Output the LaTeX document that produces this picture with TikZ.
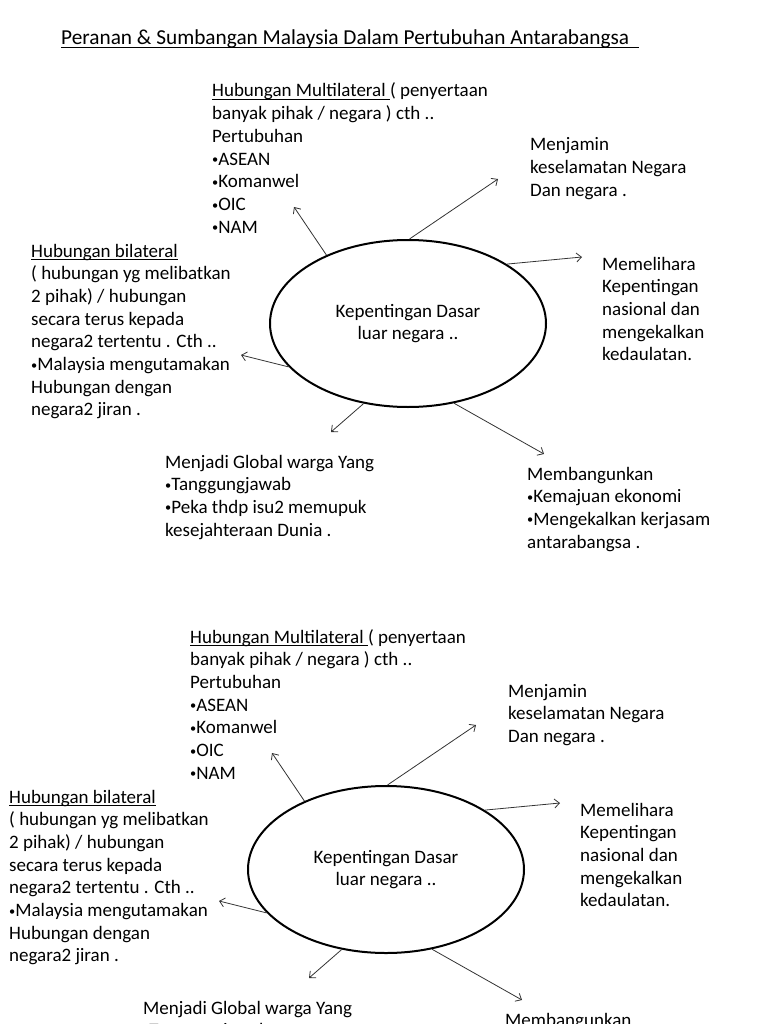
\documentclass[tikz,border=0pt]{standalone}
\usepackage{fontspec}
\setmainfont{Carlito}
\usetikzlibrary{shapes.geometric,arrows.meta}
\newsavebox\ulbox
\newcommand\ulined[1]{\sbox\ulbox{#1}\rlap{\rule[-3pt]{\wd\ulbox}{1.1pt}}\usebox\ulbox}
\newcommand\bul{\raisebox{1.5pt}{\scalebox{0.65}{•}}}

\begin{document}
\begin{tikzpicture}[x=1pt,y=-1pt,
	txt/.style={anchor=base west,align=left,inner sep=0,font=\fontsize{19}{22.7}\selectfont},
	arr/.style={draw=black!80,line width=0.8,-{Straight Barb[length=5pt,width=9pt]}},
	blob/.style={ellipse,draw,line width=2,minimum width=276,minimum height=167,inner sep=0,align=center,font=\fontsize{19}{22.7}\selectfont}]
	\useasboundingbox (0,0) rectangle (768,1024);
	\clip (0,0) rectangle (768,1024);
	\node[anchor=base west,inner sep=0,font=\fontsize{21.3}{25}\selectfont] (title) at (61,45) {\ulined{Peranan \& Sumbangan Malaysia Dalam Pertubuhan Antarabangsa\ \ }};
	\foreach \dx/\dy/\p in {0/0/a,-22/546/b}{
	\begin{scope}[shift={(\dx,\dy)}]
		\node[blob] (ell\p) at (408,323.5) {Kepentingan Dasar\\luar negara ..};
		\node[txt] (multi\p) at (212,233.2) {\ulined{Hubungan Multilateral }( penyertaan\\banyak pihak / negara ) cth ..\\Pertubuhan\\\bul ASEAN\\\bul Komanwel\\\bul OIC\\\bul NAM};
		\node[txt] (jamin\p) at (530,196.4) {Menjamin\\keselamatan Negara\\Dan negara .};
		\node[txt] (pelihara\p) at (602,360.8) {Memelihara\\Kepentingan\\nasional dan\\mengekalkan\\kedaulatan.};
		\node[txt] (bi\p) at (31,415.9) {\ulined{Hubungan bilateral}\\( hubungan yg melibatkan\\2 pihak) / hubungan\\secara terus kepada\\negara2 tertentu . Cth ..\\\bul Malaysia mengutamakan\\Hubungan dengan\\negara2 jiran .};
		\node[txt] (global\p) at (165,536.1) {Menjadi Global warga Yang\\\bul Tanggungjawab\\\bul Peka thdp isu2 memupuk\\kesejahteraan Dunia .};
		\node[txt] (bangun\p) at (527,548.1) {Membangunkan\\\bul Kemajuan ekonomi\\\bul Mengekalkan kerjasam\\antarabangsa .};
		\coordinate (multiend\p) at (294,207);
		\coordinate (jaminend\p) at (498,179);
		\coordinate (peliharaend\p) at (582,257);
		\coordinate (biend\p) at (241,355);
		\coordinate (globalend\p) at (331,432);
		\coordinate (bangunend\p) at (544,454);
		\draw[arr] (ell\p.140)--(multiend\p);
		\draw[arr] (ell\p.89)--(jaminend\p);
		\draw[arr] (ell\p.31)--(peliharaend\p);
		\draw[arr] (ell\p.200.6)--(biend\p);
		\draw[arr] (ell\p.241)--(globalend\p);
		\draw[arr] (ell\p.300)--(bangunend\p);
	\end{scope}}
\end{tikzpicture}
\end{document}
